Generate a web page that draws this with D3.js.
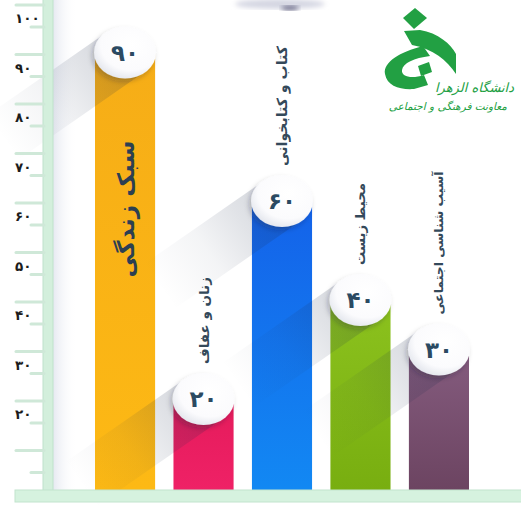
<!DOCTYPE html>
<html><head><meta charset="utf-8">
<script src="https://cdn.jsdelivr.net/npm/d3@7"></script>
<style>html,body{margin:0;padding:0;background:#fff;overflow:hidden}</style>
</head><body><svg id="c" width="521" height="506"></svg>
<script>
// ---- data ----
const categories = ["سبک زندگی", "زنان و عفاف", "کتاب و کتابخوانی", "محیط زیست", "آسیب شناسی اجتماعی"];
const values = [90, 20, 60, 40, 30];
const valueLabels = ["۹۰", "۲۰", "۶۰", "۴۰", "۳۰"];
const tickValues = [100, 90, 80, 70, 60, 50, 40, 30, 20];
const tickLabels = ["۱۰۰", "۹۰", "۸۰", "۷۰", "۶۰", "۵۰", "۴۰", "۳۰", "۲۰"];
const logoTitle = "دانشگاه الزهرا";
const logoSubtitle = "معاونت فرهنگی و اجتماعی";

// ---- styles ----
const barTop = ["#f6ad17", "#e41b5b", "#1462e9", "#8cc21e", "#855c7f"];
const barBottom = ["#fdb914", "#ef2166", "#1288f3", "#78ae10", "#6c4461"];
const labelLen = [137, 87, 120, 82, 143];
const green = "#22a043";

const W = 521, H = 506;
const svg = d3.select("#c");
const defs = svg.append("defs");

const y = d3.scaleLinear().domain([20, 100]).range([414, 18]);
const x = d3.scaleBand().domain(categories).range([95, 469]).paddingInner(0.234).paddingOuter(0);
const baseY = 490, lift = 15, rx = 31, ry = 26;

const data = categories.map((c, i) => ({
  cat: c, v: values[i], lab: valueLabels[i], i,
  cx: x(c) + x.bandwidth() / 2, cy: y(values[i]) - lift
}));

svg.append("rect").attr("width", W).attr("height", H).attr("fill", "#fff");

// ruler side shade
const rs = defs.append("linearGradient").attr("id", "rs");
rs.append("stop").attr("offset", 0).attr("stop-color", "#e6e9f1");
rs.append("stop").attr("offset", 1).attr("stop-color", "#fff").attr("stop-opacity", 0);
svg.append("rect").attr("x", 53).attr("y", 0).attr("width", 24).attr("height", baseY).attr("fill", "url(#rs)");

// bar gradients
data.forEach(d => {
  const g = defs.append("linearGradient").attr("id", "bg" + d.i).attr("x1", 0).attr("y1", 0).attr("x2", 0).attr("y2", 1);
  g.append("stop").attr("offset", 0).attr("stop-color", barTop[d.i]);
  g.append("stop").attr("offset", 1).attr("stop-color", barBottom[d.i]);
});

svg.append("g").selectAll("rect").data(data).join("rect")
  .attr("x", d => x(d.cat)).attr("width", x.bandwidth())
  .attr("y", d => d.cy).attr("height", d => baseY - d.cy)
  .attr("fill", d => `url(#bg${d.i})`);

// long shadows
const dx = -0.82, dy = 0.57, nx = 0.57, ny = 0.82, r = 27, L = 150;
data.forEach(d => {
  const g = defs.append("linearGradient").attr("id", "sh" + d.i).attr("gradientUnits", "userSpaceOnUse")
    .attr("x1", d.cx).attr("y1", d.cy).attr("x2", d.cx + L * dx).attr("y2", d.cy + L * dy);
  g.append("stop").attr("offset", 0).attr("stop-color", "#1b2a4a").attr("stop-opacity", 0.2);
  g.append("stop").attr("offset", 0.3).attr("stop-color", "#1b2a4a").attr("stop-opacity", 0.13);
  g.append("stop").attr("offset", 0.6).attr("stop-color", "#1b2a4a").attr("stop-opacity", 0.05);
  g.append("stop").attr("offset", 1).attr("stop-color", "#1b2a4a").attr("stop-opacity", 0);
});
svg.append("g").selectAll("path").data(data).join("path")
  .attr("d", d => {
    const p = [[d.cx - r * nx, d.cy - r * ny], [d.cx + r * nx, d.cy + r * ny],
               [d.cx + r * nx + L * dx, d.cy + r * ny + L * dy], [d.cx - r * nx + L * dx, d.cy - r * ny + L * dy]];
    return "M" + p.map(q => q.join(",")).join("L") + "Z";
  })
  .attr("fill", d => `url(#sh${d.i})`);

// ruler
const ruler = svg.append("g");
ruler.append("rect").attr("x", 43).attr("y", -2).attr("width", 10).attr("height", baseY + 4)
  .attr("fill", "#d3efdc").attr("stroke", "#bfe2cb").attr("stroke-width", 1);
ruler.append("rect").attr("x", 15).attr("y", baseY).attr("width", W - 10).attr("height", 12)
  .attr("fill", "#d6f2df").attr("stroke", "#c2e4cd").attr("stroke-width", 1);
const marks = d3.range(10, 101, 10);
ruler.selectAll("line.long").data(marks).join("line").attr("class", "long")
  .attr("x1", 16).attr("x2", 44).attr("y1", v => y(v) - 13).attr("y2", v => y(v) - 13)
  .attr("stroke", "#cfe8d8").attr("stroke-width", 3).attr("stroke-linecap", "round");
ruler.selectAll("line.short").data(marks).join("line").attr("class", "short")
  .attr("x1", 31).attr("x2", 44).attr("y1", v => y(v) + 9).attr("y2", v => y(v) + 9)
  .attr("stroke", "#cfe8d8").attr("stroke-width", 3).attr("stroke-linecap", "round");
ruler.selectAll("text").data(tickValues).join("text")
  .attr("x", 15).attr("y", v => y(v)).attr("dominant-baseline", "central")
  .attr("font-family", "DejaVu Sans").attr("font-weight", "bold").attr("font-size", 13.5)
  .attr("fill", "#1c1c1c").text((v, i) => tickLabels[i]);

// circles
const cg = defs.append("radialGradient").attr("id", "cg").attr("cx", 0.6).attr("cy", 0.35).attr("r", 0.7);
cg.append("stop").attr("offset", 0).attr("stop-color", "#ffffff");
cg.append("stop").attr("offset", 0.7).attr("stop-color", "#fbfbfd");
cg.append("stop").attr("offset", 1).attr("stop-color", "#e2e5ec");
const f = defs.append("filter").attr("id", "ds").attr("x", -0.3).attr("y", -0.3).attr("width", 1.6).attr("height", 1.6);
f.append("feDropShadow").attr("dx", -2).attr("dy", 3).attr("stdDeviation", 2.5).attr("flood-color", "#223").attr("flood-opacity", 0.25);

svg.append("g").selectAll("ellipse").data(data).join("ellipse")
  .attr("cx", d => d.cx).attr("cy", d => d.cy).attr("rx", rx).attr("ry", ry)
  .attr("fill", "url(#cg)").attr("filter", "url(#ds)");

svg.append("g").selectAll("text").data(data).join("text")
  .attr("x", d => d.cx).attr("y", d => d.cy).attr("text-anchor", "middle").attr("dominant-baseline", "central")
  .attr("font-family", "DejaVu Sans").attr("font-weight", "bold").attr("font-size", 23)
  .attr("fill", "#2b4a62").text(d => d.lab);

// category labels (rotated)
const lg = svg.append("g");
data.forEach(d => {
  const inside = d.cy - ry - labelLen[d.i] - 12 < 0;
  const bottom = inside ? d.cy + 225 : d.cy - ry - 9;
  const t = lg.append("text")
    .attr("transform", `translate(${d.cx},${bottom}) rotate(-90)`)
    .attr("text-anchor", "start").attr("dominant-baseline", "central")
    .attr("font-family", "DejaVu Sans").attr("font-weight", "bold")
    .attr("font-size", 16).attr("fill", inside ? "#2c3f52" : "#34495a").text(d.cat);
  const len = t.node().getComputedTextLength();
  t.attr("font-size", 16 * labelLen[d.i] / len);
});

// logo
const logo = svg.append("g").attr("fill", green);
logo.append("path").attr("d", "M415,8 L427,18 L414,29 L403,18 Z");
logo.append("path").attr("d", "M404,31 L420,30 C438,33 451,44 456,54 L456,74 C447,60 433,49 412,45 Z");
logo.append("path").attr("d", "M423,46 C400,52 383,62 385,74 C387,86 400,90 414,89 L428,85 L424,75 C412,79 401,77 402,70 C403,63 414,58 430,56 Z");
logo.append("path").attr("d", "M418,66 L429,62 L432,72 L421,76 Z");
logo.append("text").attr("x", 514).attr("y", 92).attr("text-anchor", "end")
  .attr("font-family", "DejaVu Sans").attr("font-style", "italic").attr("font-size", 13).text(logoTitle);
logo.append("text").attr("x", 507).attr("y", 110).attr("text-anchor", "end")
  .attr("font-family", "DejaVu Sans").attr("font-style", "italic").attr("font-size", 10.5).text(logoSubtitle);

// top faint blob
const bl = defs.append("filter").attr("id", "bl");
bl.append("feGaussianBlur").attr("stdDeviation", 2.5);
svg.append("ellipse").attr("cx", 280).attr("cy", 4).attr("rx", 45).attr("ry", 5).attr("fill", "#d4d6e2").attr("filter", "url(#bl)");
svg.append("ellipse").attr("cx", 290).attr("cy", 8).attr("rx", 9).attr("ry", 2.5).attr("fill", "#6a6a88").attr("filter", "url(#bl)");
</script></body></html>
